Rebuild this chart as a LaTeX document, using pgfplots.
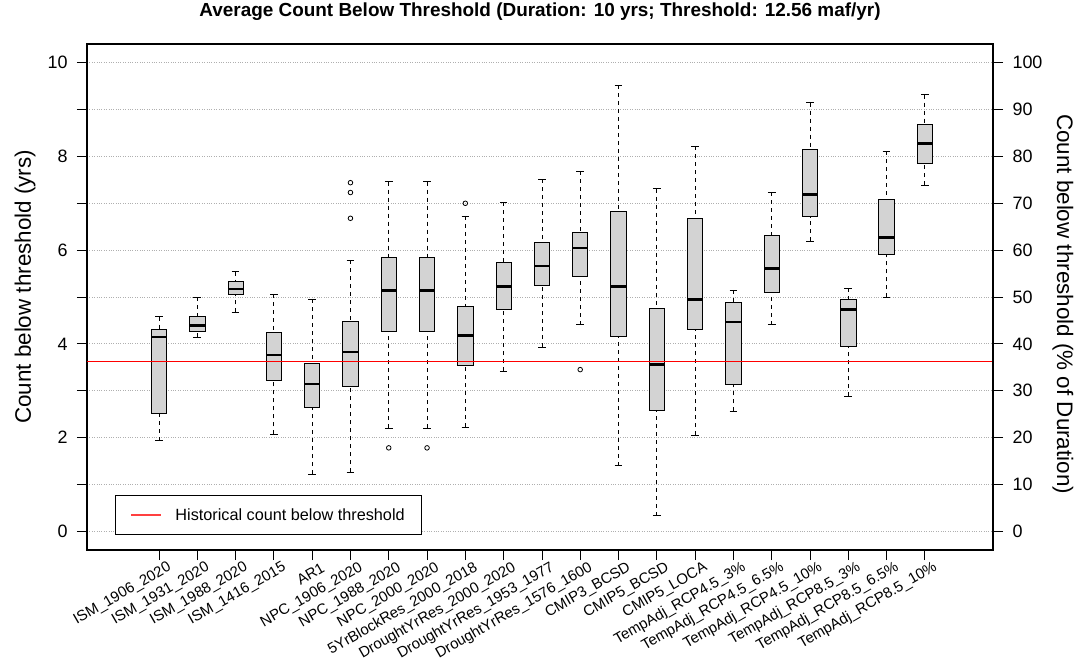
\documentclass[border=0pt]{standalone}
\usepackage{pgfplots}
\pgfplotsset{compat=1.18}
\usepgfplotslibrary{statistics}
\usepackage{fontspec}
\setmainfont{Liberation Sans}

\definecolor{boxfill}{RGB}{211,211,211}
\definecolor{gridgray}{RGB}{175,175,175}

% five-number summary of one scenario: position, lower whisker, Q1, median, Q3, upper whisker
\pgfplotsset{
  bx/.style n args={6}{
    forget plot,
    boxplot prepared={draw position=#1, lower whisker=#2, lower quartile=#3,
                      median=#4, upper quartile=#5, upper whisker=#6},
  },
}

\begin{document}
\begin{tikzpicture}
\begin{axis}[
  at={(0bp,0bp)}, anchor=south west,
  scale only axis, width=906bp, height=506bp,
  xmin=-0.88, xmax=22.78, ymin=-0.4, ymax=10.4,
  axis line style={line width=1.3bp},
  tick pos=left, tick align=outside,
  major tick length=10bp,
  tick style={black, line width=0.8bp},
  xtick={1,...,21},
  xticklabels={ISM\_1906\_2020, ISM\_1931\_2020, ISM\_1988\_2020, ISM\_1416\_2015, AR1,
    NPC\_1906\_2020, NPC\_1988\_2020, NPC\_2000\_2020, 5YrBlockRes\_2000\_2018,
    DroughtYrRes\_2000\_2020, DroughtYrRes\_1953\_1977, DroughtYrRes\_1576\_1600,
    CMIP3\_BCSD, CMIP5\_BCSD, CMIP5\_LOCA, TempAdj\_RCP4.5\_3\%, TempAdj\_RCP4.5\_6.5\%,
    TempAdj\_RCP4.5\_10\%, TempAdj\_RCP8.5\_3\%, TempAdj\_RCP8.5\_6.5\%, TempAdj\_RCP8.5\_10\%},
  xticklabel style={font=\fontsize{15}{17}\selectfont, xshift=12bp, yshift=-6bp, rotate=30, anchor=east, inner sep=1bp},
  ytick={0,...,10},
  yticklabels={0,,2,,4,,6,,8,,10},
  yticklabel style={font=\fontsize{18}{20}\selectfont, xshift=-6bp},
  ymajorgrids,
  grid style={gridgray, dotted, line width=0.8bp},
  ylabel={Count below threshold (yrs)},
  ylabel style={font=\fontsize{22.5}{26}\selectfont, at={(axis description cs:-0.0684,0.52)}, anchor=center},
  title={Average Count Below Threshold (Duration: 10 yrs; Threshold: 12.56 maf/yr)},
  title style={font=\bfseries\fontsize{19}{22}\selectfont, at={(axis description cs:0.5,1)}, anchor=center, yshift=26bp},
  boxplot/draw direction=y,
  boxplot/box extend=0.4,
  boxplot/whisker extend=0.2,
  boxplot/every box/.style={draw=black, fill=boxfill, line width=0.8bp},
  boxplot/every median/.style={black, line width=2.6bp},
  boxplot/draw/lower whisker/.code={
    \draw[black, line width=0.8bp, dash pattern=on 4bp off 4bp]
      (boxplot box cs:\pgfplotsboxplotvalue{lower whisker},0.5) --
      (boxplot box cs:\pgfplotsboxplotvalue{lower quartile},0.5);
    \draw[black, line width=0.8bp]
      (boxplot whisker cs:\pgfplotsboxplotvalue{lower whisker},0) --
      (boxplot whisker cs:\pgfplotsboxplotvalue{lower whisker},1);
  },
  boxplot/draw/upper whisker/.code={
    \draw[black, line width=0.8bp, dash pattern=on 4bp off 4bp]
      (boxplot box cs:\pgfplotsboxplotvalue{upper whisker},0.5) --
      (boxplot box cs:\pgfplotsboxplotvalue{upper quartile},0.5);
    \draw[black, line width=0.8bp]
      (boxplot whisker cs:\pgfplotsboxplotvalue{upper whisker},0) --
      (boxplot whisker cs:\pgfplotsboxplotvalue{upper whisker},1);
  },
  legend style={at={(axis description cs:0.0309,0.0296)}, anchor=south west,
    draw=black, line width=0.8bp, inner xsep=15bp, inner ysep=11bp,
    font=\fontsize{16.3}{18}\selectfont},
  legend cell align=left,
  legend image code/.code={\draw[#1, line width=1.3bp, opacity=0.75] (0bp,0bp) -- (30bp,0bp); \path (42bp,0bp);},
]
\addplot[black, bx={1}{1.93}{2.52}{4.15}{4.30}{4.58}] coordinates {};
\addplot[black, bx={2}{4.14}{4.27}{4.39}{4.58}{4.99}] coordinates {};
\addplot[black, bx={3}{4.67}{5.05}{5.17}{5.33}{5.54}] coordinates {};
\addplot[black, bx={4}{2.07}{3.21}{3.76}{4.24}{5.06}] coordinates {};
\addplot[black, bx={5}{1.22}{2.64}{3.14}{3.59}{4.95}] coordinates {};
\addplot[black, bx={6}{1.26}{3.09}{3.83}{4.48}{5.78}] coordinates {};
\addplot[black, bx={7}{2.20}{4.27}{5.14}{5.84}{7.46}] coordinates {};
\addplot[black, bx={8}{2.20}{4.27}{5.14}{5.84}{7.46}] coordinates {};
\addplot[black, bx={9}{2.22}{3.53}{4.18}{4.81}{6.73}] coordinates {};
\addplot[black, bx={10}{3.42}{4.73}{5.22}{5.73}{7.02}] coordinates {};
\addplot[black, bx={11}{3.93}{5.25}{5.66}{6.16}{7.51}] coordinates {};
\addplot[black, bx={12}{4.41}{5.43}{6.05}{6.37}{7.68}] coordinates {};
\addplot[black, bx={13}{1.40}{4.15}{5.22}{6.82}{9.52}] coordinates {};
\addplot[black, bx={14}{0.33}{2.59}{3.56}{4.75}{7.31}] coordinates {};
\addplot[black, bx={15}{2.05}{4.31}{4.95}{6.68}{8.22}] coordinates {};
\addplot[black, bx={16}{2.56}{3.13}{4.47}{4.88}{5.14}] coordinates {};
\addplot[black, bx={17}{4.41}{5.10}{5.61}{6.31}{7.24}] coordinates {};
\addplot[black, bx={18}{6.19}{6.71}{7.19}{8.16}{9.15}] coordinates {};
\addplot[black, bx={19}{2.88}{3.95}{4.73}{4.95}{5.19}] coordinates {};
\addplot[black, bx={20}{4.99}{5.90}{6.27}{7.08}{8.11}] coordinates {};
\addplot[black, bx={21}{7.39}{7.85}{8.27}{8.68}{9.32}] coordinates {};
% outlying values
\addplot[forget plot, only marks, mark=o, mark size=2.3bp, black, mark options={line width=0.8bp}]
  coordinates {(6,6.68) (6,7.23) (6,7.44) (7,1.78) (8,1.78) (9,7.00) (12,3.45)};
% historical count below threshold
\addplot[color=red, line width=0.8bp, mark=none] coordinates {(-0.88,3.62) (22.78,3.62)};
\addlegendentry{Historical count below threshold}
\end{axis}

% right-hand scale: percent of the 10-year duration
\begin{axis}[
  at={(0bp,0bp)}, anchor=south west,
  scale only axis, width=906bp, height=506bp,
  xmin=-0.88, xmax=22.78, ymin=-4, ymax=104,
  axis x line=none, axis y line*=right,
  axis line style={line width=1.3bp},
  tick align=outside, major tick length=10bp,
  tick style={black, line width=0.8bp},
  ytick={0,10,...,100},
  yticklabels={0,10,20,30,40,50,60,70,80,90,100},
  yticklabel style={font=\fontsize{18}{20}\selectfont, xshift=6bp},
  ylabel={Count below threshold (\% of Duration)},
  ylabel style={font=\fontsize{22.5}{26}\selectfont, rotate=180, at={(axis description cs:1.0773,0.486)}, anchor=center},
]
\addplot[draw=none] coordinates {(0,0)};
\end{axis}
\pgfresetboundingbox
\path[use as bounding box] (-87bp,-110bp) rectangle (1001bp,550bp);
\end{tikzpicture}
\end{document}
